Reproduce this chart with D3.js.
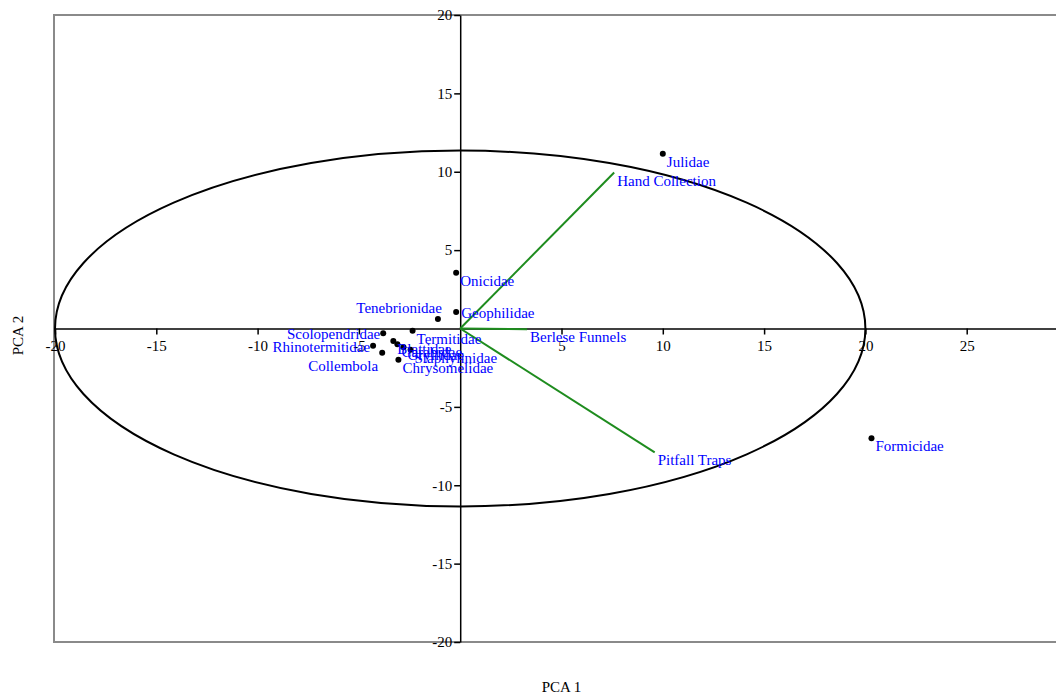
<!DOCTYPE html>
<html>
<head>
<meta charset="UTF-8">
<title>pca_biplot</title>
<style type="text/css">
	body { margin: 0; overflow: hidden; background: #fff; }
	text { font-family: "Liberation Serif", "DejaVu Serif", serif; }
	.axis path, .axis line { stroke: #000; stroke-width: 1.5px; }
	.axis text { font-size: 15px; fill: #000; }
	.taxon, .method { font-size: 15px; fill: #0000ff; }
	.title { font-size: 15px; fill: #000; text-anchor: middle; }
</style>
<script type="text/javascript" src="https://cdn.jsdelivr.net/npm/d3@7/dist/d3.min.js"></script>
</head>
<body>
<div id="div_main"></div>
<script type="text/javascript">

	// scores of the taxa
	var taxa = ["Julidae", "Formicidae", "Onicidae", "Geophilidae", "Tenebrionidae", "Termitidae",
				"Scolopendridae", "Rhinotermitidae", "Collembola", "Blattidae", "Carabidae",
				"Gryllidae", "Staphylinidae", "Chrysomelidae"];
	var pc1 = [10.0, 20.3, -0.2, -0.2, -1.1, -2.35, -3.8, -4.3, -3.85, -3.3, -3.1, -2.8, -2.45, -3.05];
	var pc2 = [11.15, -7.0, 3.55, 1.05, 0.6, -0.15, -0.3, -1.1, -1.55, -0.8, -1.0, -1.2, -1.35, -2.0];
	var labelSide = ["se", "se", "se", "e", "n", "se", "w", "w", "sw", "se", "se", "se", "se", "se"];

	// loadings of the sampling methods
	var methods = ["Hand Collection", "Berlese Funnels", "Pitfall Traps"];
	var load1 = [7.6, 3.3, 9.6];
	var load2 = [9.95, -0.05, -7.9];

	var ticksX = [-20, -15, -10, -5, 5, 10, 15, 20, 25];
	var ticksY = [-20, -15, -10, -5, 5, 10, 15, 20];

	var w = 1080, h = 698;

	var scaleX = d3.scaleLinear().domain([-20, 30]).range([55, 1068]);
	var scaleY = d3.scaleLinear().domain([-20, 20]).range([642, 15]);

	var svg = d3.select("#div_main")
				.append("svg")
					.attr("width", w)
					.attr("height", h);

	// frame
	svg.append("rect")
		.attr("x", scaleX(-20) - 1)
		.attr("y", scaleY(20))
		.attr("width", scaleX(30) - scaleX(-20) + 2)
		.attr("height", scaleY(-20) - scaleY(20))
		.attr("fill", "none")
		.attr("stroke", "#8a8a8a")
		.attr("stroke-width", 2);

	// axes through the origin (plain hyphen for negatives)
	var fmt = function (d) { return String(d); };

	var axisX = d3.axisBottom(scaleX).tickValues(ticksX).tickFormat(fmt).tickSize(6).tickPadding(6).tickSizeOuter(0);
	svg.append("g")
		.attr("class", "x axis")
		.attr("transform", "translate(0," + scaleY(0) + ")")
		.call(axisX);

	var axisY = d3.axisLeft(scaleY).tickValues(ticksY).tickFormat(fmt).tickSize(6).tickPadding(2).tickSizeOuter(0);
	svg.append("g")
		.attr("class", "y axis")
		.attr("transform", "translate(" + scaleX(0) + ",0)")
		.call(axisY);

	svg.selectAll(".axis")
		.attr("font-family", null)
		.attr("font-size", null);

	// ellipse
	svg.append("ellipse")
		.attr("cx", scaleX(0))
		.attr("cy", scaleY(0))
		.attr("rx", scaleX(20) - scaleX(0))
		.attr("ry", scaleY(0) - scaleY(11.35))
		.attr("fill", "none")
		.attr("stroke", "#000")
		.attr("stroke-width", 2);

	// loading vectors
	var vectors = methods.map(function (d, i) { return { name: d, x: load1[i], y: load2[i] }; });

	svg.selectAll("line.vector")
		.data(vectors)
		.enter()
		.append("line")
			.attr("class", "vector")
			.attr("x1", scaleX(0))
			.attr("y1", scaleY(0))
			.attr("x2", function (d) { return scaleX(d.x); })
			.attr("y2", function (d) { return scaleY(d.y); })
			.attr("stroke", "#1e8c1e")
			.attr("stroke-width", 2);

	// points
	var points = taxa.map(function (d, i) { return { name: d, x: pc1[i], y: pc2[i], side: labelSide[i] }; });

	svg.selectAll("circle")
		.data(points)
		.enter()
		.append("circle")
			.attr("cx", function (d) { return scaleX(d.x); })
			.attr("cy", function (d) { return scaleY(d.y); })
			.attr("r", 3)
			.attr("fill", "#000");

	// label offsets by side
	var offs = {
		se: { dx: 4, dy: 13, anchor: "start" },
		e:  { dx: 5, dy: 6, anchor: "start" },
		n:  { dx: 4, dy: -6, anchor: "end" },
		w:  { dx: -3, dy: 6, anchor: "end" },
		sw: { dx: -4, dy: 18, anchor: "end" }
	};

	svg.selectAll("text.taxon")
		.data(points)
		.enter()
		.append("text")
			.attr("class", "taxon")
			.attr("x", function (d) { return scaleX(d.x) + offs[d.side].dx; })
			.attr("y", function (d) { return scaleY(d.y) + offs[d.side].dy; })
			.attr("text-anchor", function (d) { return offs[d.side].anchor; })
			.text(function (d) { return d.name; });

	svg.selectAll("text.method")
		.data(vectors)
		.enter()
		.append("text")
			.attr("class", "method")
			.attr("x", function (d) { return scaleX(d.x) + 3; })
			.attr("y", function (d) { return scaleY(d.y) + 13; })
			.text(function (d) { return d.name; });

	// axis titles
	svg.append("text")
		.attr("class", "title")
		.attr("x", (scaleX(-20) + scaleX(30)) / 2)
		.attr("y", 692)
		.text("PCA 1");

	svg.append("text")
		.attr("class", "title")
		.attr("transform", "translate(23," + ((scaleY(20) + scaleY(-20)) / 2 + 7) + ") rotate(-90)")
		.text("PCA 2");

</script>
</body>
</html>
